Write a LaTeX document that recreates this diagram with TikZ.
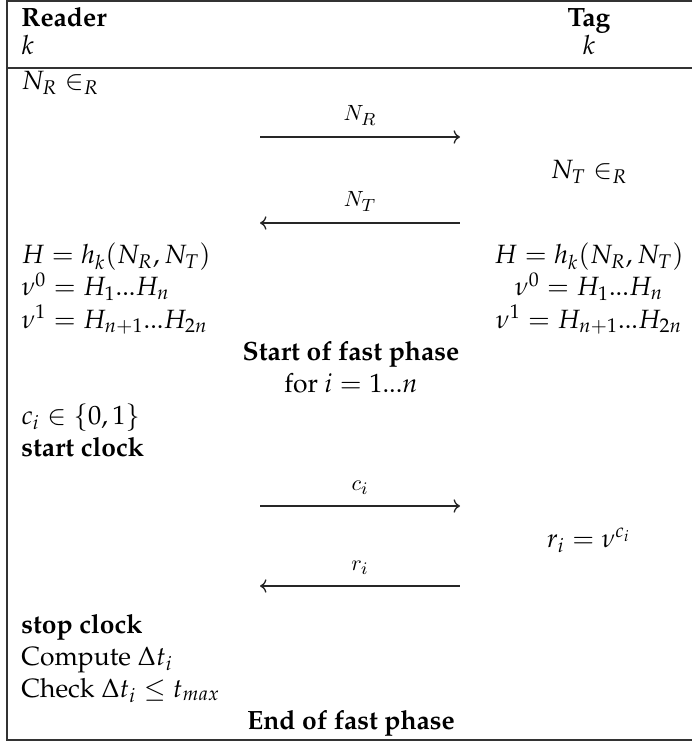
\documentclass[tikz,border=0pt,12pt]{standalone}
\usepackage[T1]{fontenc}
\usepackage{mathpazo}
\usetikzlibrary{arrows.meta, positioning, calc}
\DeclareMathAlphabet{\mathcmit}{OML}{cmm}{m}{it}

\begin{document}
\begin{tikzpicture}[x=0.454pt,y=-0.454pt,
    lcol/.style={anchor=base west, inner sep=0pt},
    rcol/.style={anchor=base, inner sep=0pt},
    msg/.style={anchor=base, inner sep=0pt, font=\footnotesize}]
  \useasboundingbox (0,0) rectangle (692,741);
  % frame of the table, open on the right
  \draw[line width=0.7pt, black!80] (692,1) -- (7,1) -- (7,740) -- (692,740);
  \draw[line width=0.7pt, black!80] (7,68) -- (692,68);
  % header
  \node[lcol] (reader) at (21,27) {\textbf{Reader}};
  \node[rcol] (tag) at (589,27) {\textbf{Tag}};
  \node[lcol] (kreader) at (21,55) {$k$};
  \node[rcol] (ktag) at (589,55) {$k$};
  % reader side
  \foreach \y/\t [count=\i] in {90/{$N_R \in_R$},
      264/{$H = h_k(N_R, N_T)$}, 296/{$\nu^0 = H_1 ... H_n$},
      328/{$\nu^1 = H_{n+1} ... H_{2n}$}, 424/{$c_i \in \{0,1\}$},
      456/{\textbf{start clock}}, 633/{\textbf{stop clock}},
      665/{Compute $\Delta t_i$}, 697/{Check $\Delta t_i \leq t_{max}$}} {
    \node[lcol] (r\i) at (21,\y) {\t};
  }
  % tag side
  \foreach \y/\t [count=\i] in {179/{$N_T \in_R$},
      264/{$H = h_k(N_R, N_T)$}, 296/{$\nu^0 = H_1 ... H_n$},
      328/{$\nu^1 = H_{n+1} ... H_{2n}$}, 547/{$r_i = \nu^{c_i}$}} {
    \node[rcol] (t\i) at (589,\y) {\t};
  }
  % spanning rows
  \node[rcol] (fastbegin) at (351,360) {\textbf{Start of fast phase}};
  \node[rcol] (loop) at (351,392) {for $i = 1 ... n$};
  \node[rcol] (fastend) at (351,729) {\textbf{End of fast phase}};
  % messages
  \foreach \y/\lab/\dir [count=\i] in {137/N_R/->, 223/N_T/<-, 506/c_i/->, 586/r_i/<-} {
    \coordinate (m\i a) at (260,\y);
    \coordinate (m\i b) at (460,\y);
    \node[msg] (lab\i) at (360,\y-16) {$\mathcmit{\lab}$};
    \draw[\dir, line width=0.6pt, black!85] (m\i a) -- (m\i b);
  }
\end{tikzpicture}
\end{document}
